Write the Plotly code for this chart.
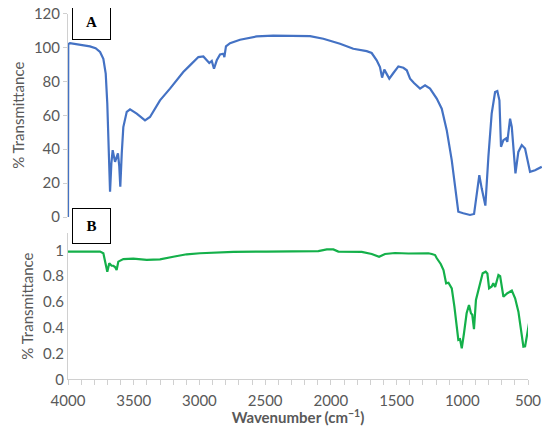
import plotly.graph_objects as go

# Spectrum A (top panel): wavenumber (cm-1) and % transmittance
wn_a = [4000, 3998, 3985, 3900, 3833, 3790, 3756, 3731, 3713, 3701, 3690, 3680, 3670, 3660,
        3642, 3620, 3610, 3602, 3591, 3579, 3553, 3528, 3477, 3414, 3376, 3300, 3224,
        3123, 3072, 3008, 2970, 2944, 2925, 2906, 2889, 2868, 2843, 2818, 2810, 2798,
        2767, 2691, 2564, 2438, 2260, 2158, 2057, 1930, 1829, 1778, 1727, 1689, 1651,
        1626, 1610, 1593, 1575, 1555, 1524, 1486, 1448, 1422, 1397, 1367, 1321, 1283,
        1245, 1194, 1156, 1118, 1080, 1055, 1030, 992, 941, 910, 890, 870, 852, 824,
        801, 776, 750, 733, 717, 705, 687, 667, 657, 636, 623, 595, 573, 547, 522,
        484, 446, 395]
t_a = [0, 102.0, 102.5, 101.5, 100.6, 99.5, 97.3, 93.3, 84.5, 66.9, 37.5, 14.9, 31.6, 39.4,
       32.5, 37.5, 30.0, 17.8, 37.5, 53.0, 62.0, 63.5, 61.0, 57.0, 59.0, 68.8, 75.7,
       85.5, 89.4, 94.3, 94.7, 92.4, 90.8, 92.0, 87.4, 92.4, 95.9, 96.3, 94.3, 100.6,
       102.5, 104.5, 106.5, 106.9, 106.9, 106.7, 105.1, 102.2, 99.2, 98.6, 97.8, 96.7, 92.4,
       88.4, 82.2, 86.9, 84.5, 81.6, 84.9, 88.8, 88.0, 86.5, 81.6, 79.0, 75.7, 77.6,
       75.7, 69.8, 63.9, 51.2, 33.5, 17.8, 3.1, 2.2, 1.2, 1.8, 12.0, 24.7, 16.9, 6.7,
       35.5, 61.0, 73.7, 74.3, 68.8, 41.4, 45.3, 46.3, 44.3, 58.0, 53.1, 25.7, 38.4, 42.4, 40.4,
       26.6, 27.6, 29.6]

# Spectrum B (bottom panel)
wn_b = [4000, 3756, 3731, 3711, 3701, 3686, 3668, 3655, 3642, 3630, 3617, 3579, 3503, 3401,
        3300, 3199, 3097, 2996, 2869, 2742, 2489, 2425, 2171, 2095, 2031, 1981, 1943, 1765,
        1689, 1633, 1588, 1512, 1410, 1321, 1258, 1232, 1207, 1194, 1164, 1143, 1123, 1105,
        1080, 1060, 1042, 1030, 1017, 1004, 987, 967, 949, 934, 924, 911, 896, 870, 845,
        822, 809, 796, 776, 764, 750, 725, 712, 687, 657, 623, 598, 573, 553, 535, 522,
        509, 492]
t_b = [0.99, 0.99, 0.977, 0.873, 0.834, 0.899, 0.88, 0.88, 0.87, 0.847, 0.912, 0.932, 0.935, 0.925,
       0.93, 0.95, 0.969, 0.977, 0.985, 0.988, 0.99, 0.99, 0.995, 0.993, 1.007, 1.007, 0.99, 0.987,
       0.971, 0.95, 0.971, 0.979, 0.975, 0.975, 0.977, 0.971, 0.963, 0.938, 0.894, 0.847, 0.744, 0.749,
       0.705, 0.563, 0.382, 0.305, 0.31, 0.24, 0.357, 0.512, 0.576, 0.512, 0.50, 0.388, 0.615, 0.718, 0.822,
       0.834, 0.82, 0.705, 0.72, 0.744, 0.715, 0.809, 0.80, 0.64, 0.667, 0.687, 0.628, 0.524, 0.382, 0.253, 0.255,
       0.33, 0.434]

x_ticks = [4000, 3500, 3000, 2500, 2000, 1500, 1000, 500]
ya_ticks = [0, 20, 40, 60, 80, 100, 120]
yb_ticks = [0, 0.2, 0.4, 0.6, 0.8, 1]
yb_labels = ["0", "0.2", "0.4", "0.6", "0.8", "1"]

# The page draws the figure 8 px in from the top-left corner of the window.
OFF = 8
W, H = 550 - OFF, 426 - OFF
def fx(px):
    return (px - OFF) / W
def fy(py):
    return 1 - (py - OFF) / H

FAM = "Lato, Open Sans, sans-serif"
TICKFONT = dict(family=FAM, size=15, color="#595959")
AXCOL = "#D0D0D0"

fig = go.Figure()
fig.add_trace(go.Scatter(x=wn_a, y=t_a, mode="lines", xaxis="x", yaxis="y",
                         line=dict(color="#4472C4", width=2.2), showlegend=False))
fig.add_trace(go.Scatter(x=wn_b, y=t_b, mode="lines", xaxis="x2", yaxis="y2",
                         line=dict(color="#14B04A", width=2.2), showlegend=False))

fig.update_layout(
    width=W, height=H,
    margin=dict(l=0, r=0, t=0, b=0, autoexpand=False),
    paper_bgcolor="white", plot_bgcolor="white",
    xaxis=dict(domain=[fx(68), fx(542.4)], range=[4000, 390], showgrid=False,
               showline=False, showticklabels=False, zeroline=False, ticks="",
               anchor="y", automargin=False),
    yaxis=dict(domain=[fy(217), fy(13.5)], range=[0, 120], tickvals=ya_ticks,
               showgrid=False, zeroline=False, showline=True, linecolor=AXCOL,
               linewidth=1, ticks="outside", ticklen=4, tickcolor=AXCOL,
               tickfont=TICKFONT, anchor="x", automargin=False,
               ticklabeloverflow="allow",
               title=dict(text="% Transmittance", font=TICKFONT, standoff=5)),
    xaxis2=dict(domain=[fx(68), fx(528)], range=[4000, 500], tickvals=x_ticks,
                showgrid=False, zeroline=False, showline=True, linecolor=AXCOL,
                linewidth=1, ticks="outside", ticklen=5, tickcolor=AXCOL,
                minor=dict(dtick=100, tick0=0, ticks="outside", ticklen=5, tickcolor=AXCOL),
                tickfont=TICKFONT, anchor="y2", automargin=False,
                ticklabelstandoff=3, ticklabeloverflow="allow",
                title=dict(text="<b>Wavenumber (cm<sup>−1</sup>)</b>",
                           font=dict(family=FAM, size=15, color="#595959"),
                           standoff=2)),
    yaxis2=dict(domain=[fy(379.3), fy(233)], range=[0, 1.134], tickvals=yb_ticks,
                ticktext=yb_labels, showgrid=False, zeroline=False, showline=True,
                linecolor=AXCOL, linewidth=1, ticks="", tickfont=TICKFONT, anchor="x2",
                automargin=False, ticklabeloverflow="allow",
                title=dict(text="% Transmittance", font=TICKFONT, standoff=5)),
)

box = dict(xref="paper", yref="paper", showarrow=False, bordercolor="black",
           borderwidth=1, bgcolor="white", width=35, height=32, borderpad=1,
           font=dict(family="Liberation Serif, DejaVu Serif, serif", size=15, color="black"))
fig.add_annotation(text="<b>A</b>", x=fx(91), y=fy(21.5), xanchor="center", yanchor="middle", **box)
fig.add_annotation(text="<b>B</b>", x=fx(91), y=fy(225.5), xanchor="center", yanchor="middle", **box)

fig.write_html("out.html")
